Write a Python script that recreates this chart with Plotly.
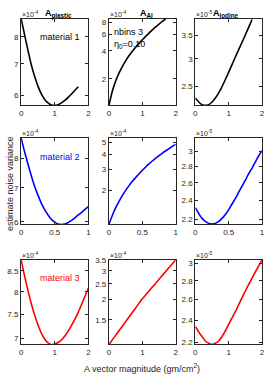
import math
import plotly.graph_objects as go

# ---------------- data ----------------
materials = ["material 1", "material 2", "material 3"]
components = ["plastic", "Al", "iodine"]
line_colors = ["#000000", "#0000FF", "#FF0000"]

# x grids (A vector magnitude, gm/cm^2)
x_row1 = [0.0, 0.1, 0.2, 0.3, 0.4, 0.5, 0.6, 0.7, 0.8, 0.9, 1.0, 1.1, 1.2, 1.3, 1.4, 1.5, 1.6, 1.7]
x_row2 = [0.0, 0.05, 0.1, 0.15, 0.2, 0.25, 0.3, 0.35, 0.4, 0.45, 0.5,
          0.55, 0.6, 0.65, 0.7, 0.75, 0.8, 0.85, 0.9, 0.95, 1.0]
x_row3 = [0.0, 0.1, 0.2, 0.3, 0.4, 0.5, 0.6, 0.7, 0.8, 0.9, 1.0,
          1.1, 1.2, 1.3, 1.4, 1.5, 1.6, 1.7, 1.8, 1.9, 2.0]

# material 1 (mantissas: x1e-4, x1e-4, x1e-5)
m1_plastic = [8.75, 8.10, 7.50, 6.98, 6.58, 6.27, 6.03, 5.87, 5.77, 5.71, 5.70,
              5.72, 5.77, 5.84, 5.93, 6.03, 6.14, 6.25]
m1_al = [1.04, 1.47, 1.89, 2.30, 2.71, 3.12, 3.53, 3.94, 4.36, 4.80, 5.24,
         5.70, 6.18, 6.68, 7.19, 7.71, 8.25, 8.80]
m1_iodine = [2.32, 2.26, 2.22, 2.21, 2.22, 2.26, 2.32, 2.40, 2.50, 2.62, 2.75,
             2.89, 3.04, 3.19, 3.35, 3.52, 3.70, 3.89]

# material 2
m2_plastic = [8.77, 8.25, 7.80, 7.40, 7.05, 6.77, 6.53, 6.34, 6.19, 6.07, 5.99,
              5.94, 5.93, 5.94, 5.98, 6.04, 6.11, 6.19, 6.26, 6.35, 6.43]
m2_al = [1.04, 1.23, 1.42, 1.61, 1.80, 1.99, 2.18, 2.37, 2.55, 2.74, 2.93,
         3.12, 3.31, 3.50, 3.69, 3.88, 4.07, 4.26, 4.44, 4.63, 4.82]
m2_iodine = [2.32, 2.26, 2.21, 2.18, 2.16, 2.155, 2.16, 2.18, 2.21, 2.25, 2.30,
             2.36, 2.42, 2.49, 2.56, 2.63, 2.71, 2.78, 2.86, 2.94, 3.01]

# material 3
m3_plastic = [8.77, 8.38, 8.04, 7.74, 7.49, 7.28, 7.11, 6.99, 6.91, 6.88, 6.89,
              6.92, 6.97, 7.05, 7.15, 7.27, 7.40, 7.55, 7.72, 7.90, 8.09]
m3_al = [1.06, 1.131, 1.206, 1.287, 1.372, 1.464, 1.561, 1.665, 1.776, 1.894, 2.020,
         2.134, 2.255, 2.383, 2.518, 2.661, 2.811, 2.970, 3.138, 3.316, 3.504]
m3_iodine = [2.34, 2.29, 2.25, 2.21, 2.19, 2.18, 2.19, 2.21, 2.25, 2.30, 2.36,
             2.42, 2.48, 2.55, 2.62, 2.69, 2.76, 2.83, 2.90, 2.97, 3.04]

# exponents of each column
col_exponents = [-4, -4, -5]

# y axis limits (mantissa units)
y_limits = [
    [(5.70, 8.75), (1.04, 8.80), (2.21, 3.91)],
    [(5.93, 8.77), (1.035, 5.46), (2.15, 3.19)],
    [(6.88, 8.77), (1.06, 3.50), (2.18, 3.04)],
]
y_ticks = [
    [[6, 7, 8], [2, 4, 6, 8], [2.5, 3, 3.5]],
    [[6, 7, 8], [2, 3, 4, 5], [2.2, 2.4, 2.6, 2.8, 3]],
    [[7, 7.5, 8, 8.5], [1.5, 2, 2.5, 3, 3.5], [2.2, 2.4, 2.6, 2.8, 3]],
]
x_limits = [(0, 2), (0, 1), (0, 2)]
x_ticks = [[0, 1, 2], [0, 0.5, 1], [0, 1, 2]]

series = [
    [m1_plastic, m1_al, m1_iodine],
    [m2_plastic, m2_al, m2_iodine],
    [m3_plastic, m3_al, m3_iodine],
]
x_rows = [x_row1, x_row2, x_row3]

# ---------------- layout geometry ----------------
W, H = 269, 377
col_px = [(19.5, 88), (109, 177), (197, 265)]
row_px = [(15, 103), (136, 224), (260, 346)]

AX_COLOR = "#262626"
FONT = "Liberation Sans, Arial, sans-serif"

fig = go.Figure()
layout = dict(
    width=W, height=H, autosize=False,
    margin=dict(l=0, r=0, t=0, b=0),
    paper_bgcolor="white", plot_bgcolor="white",
    showlegend=False,
    font=dict(family=FONT, size=8, color=AX_COLOR),
)
annotations = []


def fmt(v):
    return "%g" % v


for r in range(3):
    for c in range(3):
        idx = r * 3 + c + 1
        xa = "x" if idx == 1 else f"x{idx}"
        ya = "y" if idx == 1 else f"y{idx}"
        xkey = "xaxis" if idx == 1 else f"xaxis{idx}"
        ykey = "yaxis" if idx == 1 else f"yaxis{idx}"
        scale = 10.0 ** col_exponents[c]
        yvals = [v * scale for v in series[r][c]]
        fig.add_trace(go.Scatter(
            x=x_rows[r], y=yvals, mode="lines", xaxis=xa, yaxis=ya,
            line=dict(color=line_colors[r], width=1.6, shape="spline", smoothing=0.6),
            hoverinfo="skip", cliponaxis=True,
        ))
        x0, x1 = col_px[c]
        t0, t1 = row_px[r]
        xdom = [x0 / W, x1 / W]
        ydom = [1 - t1 / H, 1 - t0 / H]
        lo, hi = y_limits[r][c]
        layout[xkey] = dict(
            domain=xdom, anchor=ya, range=list(x_limits[r]),
            tickvals=x_ticks[r], ticktext=[fmt(v) for v in x_ticks[r]],
            ticks="inside", ticklen=3, tickwidth=0.8, tickcolor=AX_COLOR,
            showline=True, linecolor=AX_COLOR, linewidth=1.2, mirror="ticks",
            showgrid=False, zeroline=False,
            tickfont=dict(size=8, color=AX_COLOR, family=FONT),
            fixedrange=True,
        )
        layout[ykey] = dict(
            domain=ydom, anchor=xa, type="log",
            range=[math.log10(lo * scale), math.log10(hi * scale)],
            tickvals=[v * scale for v in y_ticks[r][c]],
            ticktext=[fmt(v) for v in y_ticks[r][c]],
            ticks="inside", ticklen=3, tickwidth=0.8, tickcolor=AX_COLOR,
            showline=True, linecolor=AX_COLOR, linewidth=1.2, mirror="ticks",
            showgrid=False, zeroline=False,
            tickfont=dict(size=8, color=AX_COLOR, family=FONT),
            fixedrange=True,
        )
        # exponent label
        annotations.append(dict(
            x=xdom[0], y=ydom[1], xref="paper", yref="paper",
            xanchor="left", yanchor="bottom", showarrow=False,
            text=f"\u00d710<sup>{col_exponents[c]}</sup>",
            font=dict(size=7, color=AX_COLOR, family=FONT),
            xshift=-1, yshift=-1,
        ))

# column titles
title_centers = [58, 147, 228]
for c in range(3):
    annotations.append(dict(
        x=title_centers[c] / W, y=1 - 2 / H, xref="paper", yref="paper",
        xanchor="center", yanchor="top", showarrow=False,
        text=f"<b>A<sub>{components[c]}</sub></b>",
        font=dict(size=9, color="#000000", family=FONT),
    ))

# material labels
mat_y = [34, 155, 278]
for r in range(3):
    annotations.append(dict(
        x=59 / W, y=1 - mat_y[r] / H, xref="paper", yref="paper",
        xanchor="center", yanchor="middle", showarrow=False,
        text=materials[r], font=dict(size=9, color=line_colors[r], family=FONT),
    ))

# nbins / eta label
annotations.append(dict(
    x=112 / W, y=1 - 28 / H, xref="paper", yref="paper",
    xanchor="left", yanchor="middle", showarrow=False,
    text="nbins 3", font=dict(size=9, color="#000000", family=FONT),
))
annotations.append(dict(
    x=112 / W, y=1 - 41 / H, xref="paper", yref="paper",
    xanchor="left", yanchor="middle", showarrow=False,
    text="\u03b7<sub>0</sub>=0.10", font=dict(size=9, color="#000000", family=FONT),
))

# axis labels
annotations.append(dict(
    x=8 / W, y=1 - 182 / H, xref="paper", yref="paper",
    xanchor="center", yanchor="middle", showarrow=False, textangle=-90,
    text="estimate noise variance", font=dict(size=9, color=AX_COLOR, family=FONT),
))
annotations.append(dict(
    x=143 / W, y=1 - 370 / H, xref="paper", yref="paper",
    xanchor="center", yanchor="middle", showarrow=False,
    text="A vector magnitude (gm/cm<sup>2</sup>)",
    font=dict(size=9, color=AX_COLOR, family=FONT),
))

layout["annotations"] = annotations
fig.update_layout(**layout)
fig.write_html(
    "out.html",
    config={"displayModeBar": False},
    post_script="document.body.style.margin='0';document.body.style.padding='0';document.documentElement.style.overflow='hidden';",
)
